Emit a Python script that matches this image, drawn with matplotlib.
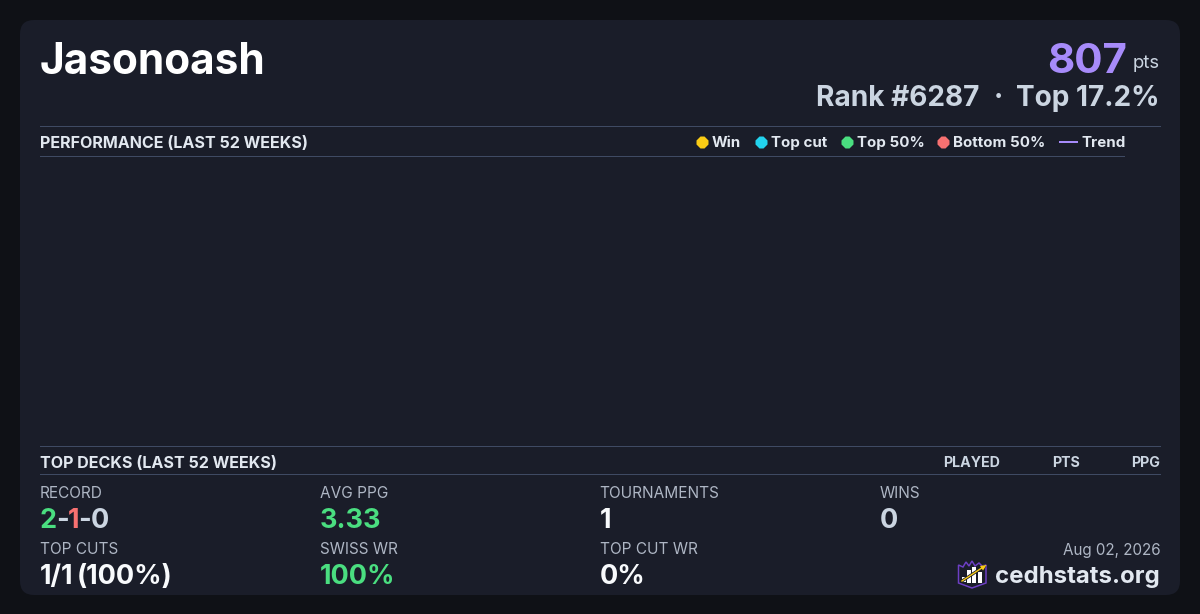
import matplotlib
matplotlib.use('Agg')
import matplotlib.pyplot as plt
from matplotlib.patches import FancyBboxPatch, Polygon, Rectangle

plt.rcParams['font.family'] = ['Inter', 'DejaVu Sans']

# Data read from the card
player = 'Jasonoash'
points = '807'
rank_label = 'Rank #6287'
top_label = 'Top 17.2%'
perf_title = 'PERFORMANCE (LAST 52 WEEKS)'
decks_title = 'TOP DECKS (LAST 52 WEEKS)'
legend_labels = ['Win', 'Top cut', 'Top 50%', 'Bottom 50%']
legend_colors = ['#facc15', '#22d3ee', '#4ade80', '#f87171']
legend_x = [702, 761, 847, 943]
deck_columns = ['PLAYED', 'PTS', 'PPG']
deck_column_x = [1000, 1080, 1160]
record = ['2', '-', '1', '-', '0']
record_colors = ['#4ade80', '#cbd5e1', '#f87171', '#cbd5e1', '#cbd5e1']
stat_labels_top = ['RECORD', 'AVG PPG', 'TOURNAMENTS', 'WINS']
stat_labels_bottom = ['TOP CUTS', 'SWISS WR', 'TOP CUT WR']
stat_values_top = [None, '3.33', '1', '0']
stat_colors_top = [None, '#4ade80', '#f8fafc', '#cbd5e1']
stat_values_bottom = [None, '100%', '0%']
stat_colors_bottom = [None, '#4ade80', '#f8fafc']
top_cuts = ['1/1', '(100%)']
stat_x = [40, 320, 600, 880]
date_label = 'Aug 02, 2026'
site_label = 'cedhstats.org'

W, H = 1200, 614
PT = 72 / 100  # one pixel in points at dpi 100


def label(x, y, s, size, color, weight='normal', ha='left'):
    '''Text placed by its baseline, in pixel coordinates.'''
    return ax.text(x, y, s, fontsize=size * PT, color=color, fontweight=weight,
                   ha=ha, va='baseline')


def rule(x0, x1, y):
    ax.add_patch(Rectangle((x0, y), x1 - x0, 1, fc='#3f4a63', ec='none'))


fig = plt.figure(figsize=(W / 100, H / 100), dpi=100, facecolor='#0f1116')
ax = fig.add_axes([0, 0, 1, 1])
ax.set_xlim(0, W)
ax.set_ylim(H, 0)
ax.axis('off')

# card
ax.add_patch(FancyBboxPatch((20, 20), 1160, 575, boxstyle='round,pad=0,rounding_size=14',
                            fc='#1a1d29', ec='none'))

# header
label(40, 74, player, 42.4, '#ffffff', 'bold')
label(1127, 73, points, 42, '#a78bfa', 'bold', ha='right')
label(1160, 68, 'pts', 18.5, '#cbd5e1', ha='right')
label(1160, 106, top_label, 28, '#cbd5e1', 'bold', ha='right')
label(998, 106, '·', 28, '#cbd5e1', 'bold', ha='center')
label(979, 106, rank_label, 28, '#cbd5e1', 'bold', ha='right')

# performance section
rule(40, 1161, 126)
rule(40, 1125, 156)
label(40, 148, perf_title, 16.1, '#e2e8f0', 'bold')
for name, color, x in zip(legend_labels, legend_colors, legend_x):
    ax.plot([x], [141.5], marker='8', ms=13 * PT, mfc=color, mec='none', ls='none')
    label(x + 10, 147, name, 15.1, '#e2e8f0', 'bold')
ax.plot([1059, 1078], [141.5, 141.5], color='#a78bfa', lw=2 * PT, solid_capstyle='butt')
label(1081, 147, 'Trend', 15.1, '#e2e8f0', 'bold')

# top decks section
rule(40, 1161, 446)
rule(40, 1161, 474)
label(40, 468, decks_title, 16.1, '#e2e8f0', 'bold')
for name, x in zip(deck_columns, deck_column_x):
    label(x, 467, name, 14.2, '#cbd5e1', 'bold', ha='right')

# stats, first row
for name, x in zip(stat_labels_top, stat_x):
    label(x - 0.5, 498, name, 15.4, '#aeb6c4')
for value, color, x in zip(stat_values_top, stat_colors_top, stat_x):
    if value is not None:
        label(x, 528, value, 27, color, 'bold')

# record is several colours, so lay the pieces out one after the other
fig.canvas.draw()
x = stat_x[0] - 0.5
for piece, color in zip(record, record_colors):
    t = label(x, 528, piece, 27, color, 'bold')
    x += t._get_layout(fig.canvas.get_renderer())[0].width - 0.8

# stats, second row
for name, x in zip(stat_labels_bottom, stat_x):
    label(x - 0.5, 554, name, 15.4, '#aeb6c4')
for value, color, x in zip(stat_values_bottom, stat_colors_bottom, stat_x):
    if value is not None:
        label(x, 584, value, 27, color, 'bold')
label(stat_x[0], 584, top_cuts[0], 27, '#f8fafc', 'bold')
label(77, 584, top_cuts[1], 27, '#f8fafc', 'bold')

# footer
label(1161, 555, date_label, 15.2, '#aeb6c4', ha='right')
label(1160, 583, site_label, 24, '#e2e8f0', 'bold', ha='right')

# logo
ax.add_patch(Polygon([(958.5, 565), (963, 567), (966, 562), (969, 566), (972, 561), (975, 566),
                      (979, 563), (982, 566), (986, 565), (986, 583), (972, 588), (958.5, 583)],
                     closed=True, fc='#1a1d29', ec='#6d3fc4', lw=1.5 * PT))
for bx, by, bh in [(962, 577, 5), (967, 570, 13), (972, 567, 16), (978, 572, 11)]:
    ax.add_patch(Rectangle((bx, by), 3.5, bh, fc='#ffffff', ec='none'))
ax.plot([962, 984], [581, 566.5], color='#1a1d29', lw=3 * PT, zorder=4)
ax.plot([962, 984], [581, 566.5], color='#facc15', lw=1.4 * PT, zorder=5)
ax.add_patch(Polygon([(986.5, 565), (980, 566), (983, 570.5)], closed=True,
                     fc='#facc15', ec='none', zorder=6))

fig.savefig('out.png', dpi=100, facecolor=fig.get_facecolor())
